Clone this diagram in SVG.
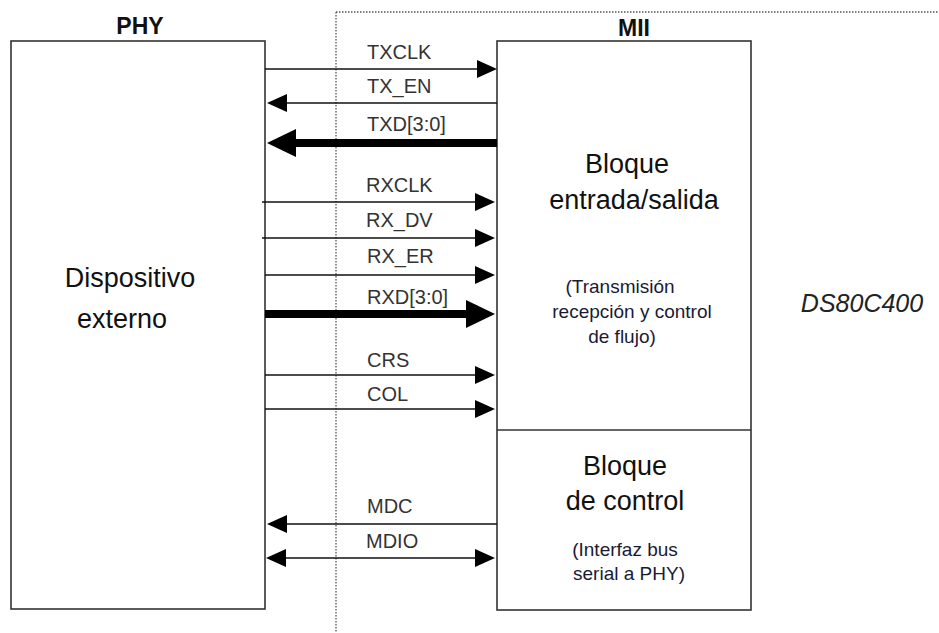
<svg xmlns="http://www.w3.org/2000/svg" width="939" height="633" viewBox="0 0 939 633">
<style>
.box{fill:#fff;stroke:#333;stroke-width:1.6}
.title{font-family:"Liberation Sans",Arial,sans-serif;font-weight:bold;font-size:23px;fill:#111;text-anchor:middle}
.big{font-family:"Liberation Sans",Arial,sans-serif;font-size:27px;fill:#111;text-anchor:middle}
.small{font-family:"Liberation Sans",Arial,sans-serif;font-size:19px;fill:#1a1a33;text-anchor:middle}
.lbl{font-family:"Liberation Sans",Arial,sans-serif;font-size:20px;fill:#333}
.chip{font-family:"Liberation Sans",Arial,sans-serif;font-size:25px;font-style:italic;fill:#222;text-anchor:middle}
.sig{stroke:#111;stroke-width:1.6;fill:none}
.bus{stroke:#000;stroke-width:8;fill:none}
.dot{stroke:#555;stroke-width:1.3;stroke-dasharray:1.5 1.5;fill:none}
</style>
<defs>
<marker id="ah" markerUnits="userSpaceOnUse" markerWidth="21" markerHeight="19" refX="0" refY="9" orient="auto-start-reverse" viewBox="0 0 21 19">
<path d="M0,0 L20,9 L0,18 z" fill="#000"/>
</marker>
<marker id="ahBig" markerUnits="userSpaceOnUse" markerWidth="30" markerHeight="29" refX="0" refY="14" orient="auto-start-reverse" viewBox="0 0 30 29">
<path d="M0,0 L29,14 L0,28 z" fill="#000"/>
</marker>
</defs>
<rect width="939" height="633" fill="#fff"/>
<g id="boundary">
<path class="dot" d="M336,12 V633 M336,12 H939"/>
</g>
<g id="phy">
<text class="title" x="140" y="34">PHY</text>
<rect class="box" x="11" y="41" width="254" height="568"/>
<text class="big" x="130" y="287">Dispositivo</text>
<text class="big" x="122" y="328">externo</text>
</g>
<g id="mii">
<text class="title" x="634" y="36">MII</text>
<rect class="box" x="497" y="41" width="254" height="569"/>
</g>
<g id="io-block">
<line class="box" x1="497" y1="430" x2="751" y2="430"/>
<text class="big" x="627" y="173">Bloque</text>
<text class="big" x="634" y="209">entrada/salida</text>
<text class="small" x="620" y="293">(Transmisión</text>
<text class="small" x="632" y="318">recepción y control</text>
<text class="small" x="622" y="343">de flujo)</text>
</g>
<g id="control-block">
<text class="big" x="625" y="475">Bloque</text>
<text class="big" x="625" y="510">de control</text>
<text class="small" x="625" y="556">(Interfaz bus</text>
<text class="small" x="629" y="580">serial a PHY)</text>
</g>
<g id="chip">
<text class="chip" x="862" y="312">DS80C400</text>
</g>
<g id="connectors">
<line class="sig" x1="265" y1="69" x2="477" y2="69" marker-end="url(#ah)"/>
<line class="sig" x1="497" y1="103" x2="287" y2="103" marker-end="url(#ah)"/>
<line class="bus" x1="497" y1="143" x2="296" y2="143" marker-end="url(#ahBig)"/>
<line class="sig" x1="262" y1="202" x2="475" y2="202" marker-end="url(#ah)"/>
<line class="sig" x1="262" y1="238" x2="475" y2="238" marker-end="url(#ah)"/>
<line class="sig" x1="265" y1="275" x2="475" y2="275" marker-end="url(#ah)"/>
<line class="bus" x1="265" y1="314" x2="466" y2="314" marker-end="url(#ahBig)"/>
<line class="sig" x1="265" y1="375" x2="475" y2="375" marker-end="url(#ah)"/>
<line class="sig" x1="265" y1="409" x2="475" y2="409" marker-end="url(#ah)"/>
<line class="sig" x1="497" y1="524" x2="287" y2="524" marker-end="url(#ah)"/>
<line class="sig" x1="286" y1="558" x2="475" y2="558" marker-start="url(#ah)" marker-end="url(#ah)"/>
<text class="lbl" x="367" y="59">TXCLK</text>
<text class="lbl" x="367" y="93">TX_EN</text>
<text class="lbl" x="367" y="131">TXD[3:0]</text>
<text class="lbl" x="366" y="192">RXCLK</text>
<text class="lbl" x="366" y="227">RX_DV</text>
<text class="lbl" x="367" y="263">RX_ER</text>
<text class="lbl" x="367" y="304">RXD[3:0]</text>
<text class="lbl" x="367" y="367">CRS</text>
<text class="lbl" x="367" y="401">COL</text>
<text class="lbl" x="367" y="513">MDC</text>
<text class="lbl" x="366" y="548">MDIO</text>
</g>
</svg>
